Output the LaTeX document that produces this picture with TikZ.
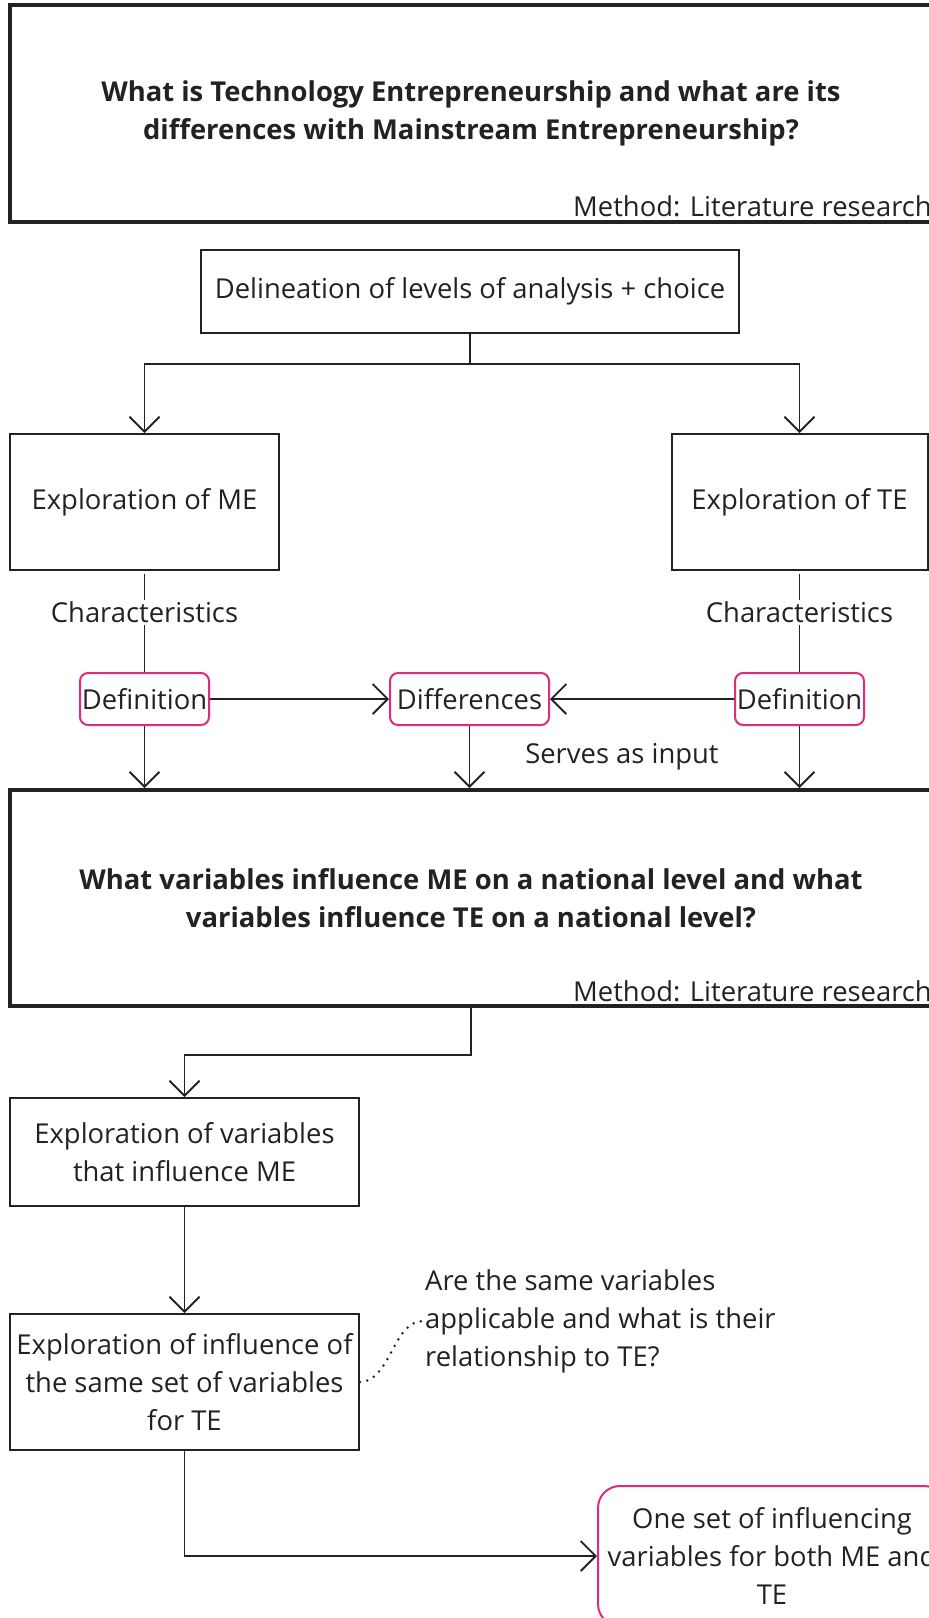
\documentclass[tikz,border=0pt]{standalone}
\usepackage{fontspec}
\setmainfont{Open Sans}
\usetikzlibrary{arrows.meta}

\definecolor{ink}{RGB}{34,34,34}
\definecolor{rim}{RGB}{224,42,122}

\begin{document}
\begin{tikzpicture}[x=1pt, y=-1pt,
    every node/.style={text=ink, font=\fontsize{27.4}{38}\selectfont},
    qbox/.style={draw=ink, line width=3.8pt, align=center, font=\bfseries\fontsize{27.4}{38}\selectfont},
    stepbox/.style={draw=ink, line width=2pt, align=center},
    pinkbox/.style={draw=rim, line width=2pt, rounded corners=8pt, align=center, inner sep=1pt},
    lbl/.style={inner sep=2pt},
    flow/.style={draw=ink, line width=1.9pt, -{Straight Barb[length=15pt, width=30pt, line width=1.9pt]}}]
    \useasboundingbox (0,0) rectangle (929,1618);
    \clip (0,0) rectangle (929,1618);

    % first research question
    \node[qbox, minimum width=922, minimum height=217] (q1) at (471,113.5)
        {What is Technology Entrepreneurship and what are its\\differences with Mainstream Entrepreneurship?};
    \node[lbl, anchor=east] (m1) at (934,206) {Method: Literature research};

    \node[stepbox, minimum width=538, minimum height=83] (delin) at (470,291.5) {Delineation of levels of analysis + choice};
    \node[stepbox, minimum width=269, minimum height=136] (expMe) at (144.5,502) {Exploration of ME};
    \node[stepbox, minimum width=256, minimum height=136] (expTe) at (799.5,502) {Exploration of TE};

    \node[pinkbox, minimum width=129, minimum height=52] (defMe) at (144.5,699) {Definition};
    \node[pinkbox, minimum width=159, minimum height=52] (diffs) at (469.5,699) {Differences};
    \node[pinkbox, minimum width=129, minimum height=52] (defTe) at (799.5,699) {Definition};

    \draw[flow] (delin.south) -- ++(0,30) -| (expMe.north);
    \draw[flow] (delin.south) -- ++(0,30) -| (expTe.north);
    \draw[draw=ink, line width=1.9pt, shorten <=3pt] (expMe.south) -- node[lbl, fill=white, pos=0.41] (chMe) {Characteristics} (defMe.north);
    \draw[draw=ink, line width=1.9pt, shorten <=3pt] (expTe.south) -- node[lbl, fill=white, pos=0.41] (chTe) {Characteristics} (defTe.north);
    \draw[flow] (defMe) -- (diffs);
    \draw[flow] (defTe) -- (diffs);

    % second research question
    \node[qbox, minimum width=922, minimum height=216] (q2) at (471,898)
        {What variables influence ME on a national level and what\\variables influence TE on a national level?};
    \node[lbl, anchor=east] (m2) at (934,991) {Method: Literature research};

    \draw[flow] (defMe) -- (q2.north -| defMe);
    \draw[flow] (diffs) -- (q2.north -| diffs);
    \draw[flow] (defTe) -- (q2.north -| defTe);
    \node[lbl] (serves) at (622,757) {Serves as input};

    \node[stepbox, minimum width=349, minimum height=108] (varsMe) at (184.5,1152) {Exploration of variables\\that influence ME};
    \node[stepbox, minimum width=349, minimum height=136] (sameTe) at (184.5,1382) {Exploration of influence of\\the same set of variables\\for TE};
    \node[lbl, anchor=west, align=left] (note) at (423,1321) {Are the same variables\\applicable and what is their\\relationship to TE?};
    \node[pinkbox, minimum width=348, minimum height=140, rounded corners=22pt] (oneSet) at (772,1556) {One set of influencing\\variables for both ME and\\TE};

    \draw[flow] (q2.south) -- ++(0,47) -| (varsMe.north);
    \draw[flow] (varsMe) -- (sameTe);
    \draw[draw=ink, line width=2.8pt, line cap=round, dash pattern=on 0pt off 7.5pt] (sameTe.east) .. controls +(30,0) and +(-30,0) .. (note.west);
    \draw[flow] (sameTe.south) |- (oneSet.west);
\end{tikzpicture}
\end{document}
